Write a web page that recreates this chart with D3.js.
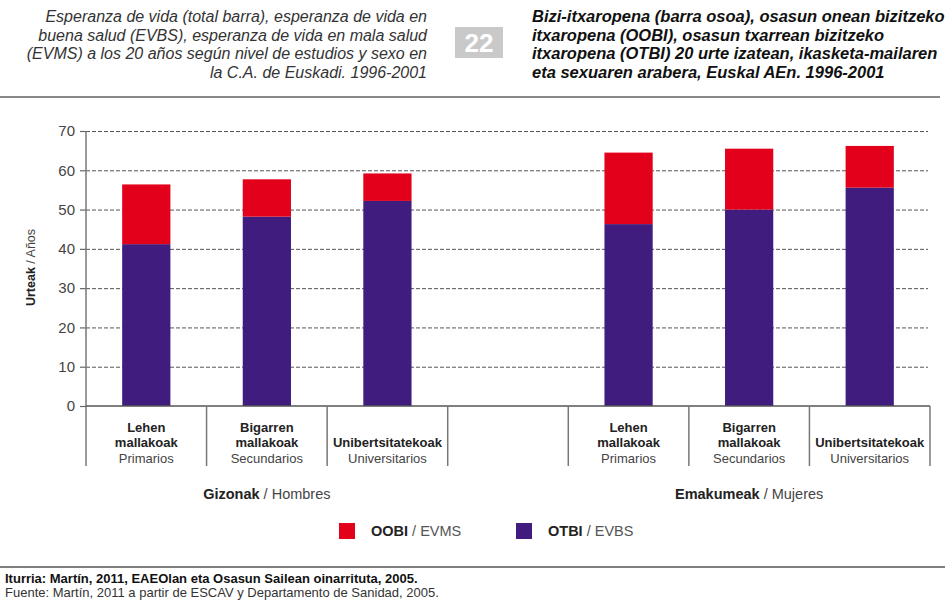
<!DOCTYPE html>
<html>
<head>
<meta charset="utf-8">
<script src="https://cdn.jsdelivr.net/npm/d3@7"></script>
<style>
  body { margin: 0; background: #fff; }
  svg { font-family: "Liberation Sans", Arial, sans-serif; }
</style>
</head>
<body>
<script>
// chart data
const groupsEu = ["Gizonak", "Emakumeak"]
const groupsEs = ["Hombres", "Mujeres"]
const levelsEu = [["Lehen", "mallakoak"], ["Bigarren", "mallakoak"], ["Unibertsitatekoak"]]
const levelsEs = ["Primarios", "Secundarios", "Universitarios"]
// one slot per bar, empty slot between the two groups
const slots = ["G0", "G1", "G2", "hutsik", "E0", "E1", "E2"]
const barSlots = ["G0", "G1", "G2", "E0", "E1", "E2"]
const otbi = [41.2, 48.2, 52.2, 46.3, 50.0, 55.6]   // OTBI / EVBS
const oobi = [15.2, 9.5, 7.0, 18.2, 15.5, 10.6]     // OOBI / EVMS
const yTicks = [0, 10, 20, 30, 40, 50, 60, 70]

const titleEs = ["Esperanza de vida (total barra), esperanza de vida en",
  "buena salud (EVBS), esperanza de vida en mala salud",
  "(EVMS) a los 20 años según nivel de estudios y sexo en",
  "la C.A. de Euskadi. 1996-2001"]
const titleEu = ["Bizi-itxaropena (barra osoa), osasun onean bizitzeko",
  "itxaropena (OOBI), osasun txarrean bizitzeko",
  "itxaropena (OTBI) 20 urte izatean, ikasketa-mailaren",
  "eta sexuaren arabera, Euskal AEn. 1996-2001"]

const RED = "#e2001a"
const PURPLE = "#3f1c7d"

class Chart {
  constructor() {
    this.svg = d3.select("body").append("svg")
      .attr("width", 949)
      .attr("height", 600)
    this.createScales()
    this.addHeader()
    this.addGrid()
    this.addBars()
    this.addAxes()
    this.addLegend()
    this.addFooter()
  }

  createScales() {
    this.xScale = d3.scaleBand()
      .domain(slots)
      .range([86, 930])
      .padding(0)
    this.yScale = d3.scaleLinear()
      .domain([0, 70])
      .range([406, 131])
  }

  addHeader() {
    const left = this.svg.append("text")
      .attr("text-anchor", "end")
      .style("font-size", "16px")
      .style("font-style", "italic")
      .attr("fill", "#333")
    titleEs.forEach((t, i) => left.append("tspan").attr("x", 427).attr("y", 22 + i * 18.7).text(t))

    const right = this.svg.append("text")
      .style("font-size", "16.5px")
      .style("font-style", "italic")
      .style("font-weight", "bold")
      .attr("fill", "#111")
    titleEu.forEach((t, i) => right.append("tspan").attr("x", 532).attr("y", 22 + i * 18.5).text(t))

    // number box
    this.svg.append("rect")
      .attr("x", 455).attr("y", 27)
      .attr("width", 48).attr("height", 31)
      .attr("fill", "#c9c9c9")
    this.svg.append("text")
      .attr("x", 479).attr("y", 52)
      .attr("text-anchor", "middle")
      .style("font-size", "26px")
      .style("font-weight", "bold")
      .attr("fill", "#fff")
      .text("22")

    this.svg.append("line")
      .attr("x1", 0).attr("x2", 940)
      .attr("y1", 97).attr("y2", 97)
      .attr("stroke", "#888")
      .attr("stroke-width", 2)
  }

  addGrid() {
    const grid = d3.axisLeft(this.yScale)
      .tickValues(yTicks.filter(d => d > 0))
      .tickSize(-842)
      .tickFormat("")
    this.svg.append("g")
      .attr("transform", "translate(86,0)")
      .call(grid)
      .call(g => g.select(".domain").remove())
      .selectAll("line")
      .attr("stroke", "#555")
      .attr("stroke-dasharray", "4,2")
  }

  addBars() {
    const rows = barSlots.map((s, i) => ({ slot: s, otbi: otbi[i], oobi: oobi[i] }))
    const series = d3.stack().keys(["otbi", "oobi"])(rows)
    const colors = { otbi: PURPLE, oobi: RED }
    const bw = this.xScale.bandwidth() * 0.4

    this.svg.append("g")
      .selectAll("g")
      .data(series)
      .join("g")
      .attr("fill", d => colors[d.key])
      .selectAll("rect")
      .data(d => d)
      .join("rect")
      .attr("x", d => this.xScale(d.data.slot) + (this.xScale.bandwidth() - bw) / 2)
      .attr("width", bw)
      .attr("y", d => this.yScale(d[1]))
      .attr("height", d => this.yScale(d[0]) - this.yScale(d[1]))
  }

  addAxes() {
    const y0 = this.yScale(0)

    // y axis
    const yAxis = d3.axisLeft(this.yScale)
      .tickValues(yTicks)
      .tickSize(6)
      .tickPadding(5)
    const ya = this.svg.append("g")
      .attr("transform", "translate(86,0)")
      .call(yAxis)
    ya.select(".domain").remove()
    ya.selectAll("line").attr("stroke", "#666").attr("stroke-width", 1.2)
    ya.selectAll("text")
      .style("font-size", "15px")
      .attr("fill", "#444")
      .style("font-family", "Liberation Sans, Arial, sans-serif")

    this.svg.append("line")
      .attr("x1", 86).attr("x2", 86)
      .attr("y1", this.yScale(70)).attr("y2", y0 + 60)
      .attr("stroke", "#777").attr("stroke-width", 1.5)

    // x axis line and separators
    this.svg.append("line")
      .attr("x1", 86).attr("x2", 930)
      .attr("y1", y0).attr("y2", y0)
      .attr("stroke", "#555").attr("stroke-width", 1.5)

    const bounds = slots.map(s => this.xScale(s) + this.xScale.bandwidth())
    this.svg.append("g")
      .selectAll("line")
      .data(bounds)
      .join("line")
      .attr("x1", d => d).attr("x2", d => d)
      .attr("y1", y0).attr("y2", y0 + 60)
      .attr("stroke", "#777").attr("stroke-width", 1.5)

    // category labels
    barSlots.forEach((s, i) => {
      const cx = this.xScale(s) + this.xScale.bandwidth() / 2
      const eu = levelsEu[i % 3]
      const t = this.svg.append("text")
        .attr("text-anchor", "middle")
        .style("font-size", "13px")
      eu.forEach((w, j) => {
        t.append("tspan")
          .attr("x", cx)
          .attr("y", y0 + 41 - (eu.length - 1 - j) * 15.5)
          .style("font-weight", "bold")
          .attr("fill", "#222")
          .text(w)
      })
      t.append("tspan")
        .attr("x", cx).attr("y", y0 + 56.5)
        .attr("fill", "#444")
        .text(levelsEs[i % 3])
    })

    // group labels
    groupsEu.forEach((g, i) => {
      const first = this.xScale(barSlots[i * 3])
      const last = this.xScale(barSlots[i * 3 + 2]) + this.xScale.bandwidth()
      const t = this.svg.append("text")
        .attr("x", (first + last) / 2)
        .attr("y", y0 + 93)
        .attr("text-anchor", "middle")
        .style("font-size", "14.5px")
      t.append("tspan").style("font-weight", "bold").attr("fill", "#222").text(g)
      t.append("tspan").attr("fill", "#444").text(" / " + groupsEs[i])
    })

    // y axis title
    const yt = this.svg.append("text")
      .attr("transform", `translate(35, ${(this.yScale(70) + y0) / 2 - 1}) rotate(-90)`)
      .attr("text-anchor", "middle")
      .style("font-size", "12.5px")
    yt.append("tspan").style("font-weight", "bold").attr("fill", "#222").text("Urteak")
    yt.append("tspan").attr("fill", "#444").text(" / Años")
  }

  addLegend() {
    const items = [
      { eu: "OOBI", es: "EVMS", color: RED, x: 339 },
      { eu: "OTBI", es: "EVBS", color: PURPLE, x: 516 }
    ]
    const lg = this.svg.append("g")
    items.forEach(d => {
      lg.append("rect")
        .attr("x", d.x).attr("y", 523)
        .attr("width", 16).attr("height", 16)
        .attr("fill", d.color)
      const t = lg.append("text")
        .attr("x", d.x + 32).attr("y", 536)
        .style("font-size", "14.5px")
      t.append("tspan").style("font-weight", "bold").attr("fill", "#222").text(d.eu)
      t.append("tspan").attr("fill", "#555").text(" / " + d.es)
    })
  }

  addFooter() {
    this.svg.append("line")
      .attr("x1", 0).attr("x2", 945)
      .attr("y1", 567).attr("y2", 567)
      .attr("stroke", "#555").attr("stroke-width", 1.5)
    this.svg.append("text")
      .attr("x", 5).attr("y", 583)
      .style("font-size", "13px")
      .style("font-weight", "bold")
      .attr("fill", "#111")
      .text("Iturria: Martín, 2011, EAEOlan eta Osasun Sailean oinarrituta, 2005.")
    this.svg.append("text")
      .attr("x", 5).attr("y", 597)
      .style("font-size", "13px")
      .attr("fill", "#333")
      .text("Fuente: Martín, 2011 a partir de ESCAV y Departamento de Sanidad, 2005.")
  }
}

new Chart()
</script>
</body>
</html>
